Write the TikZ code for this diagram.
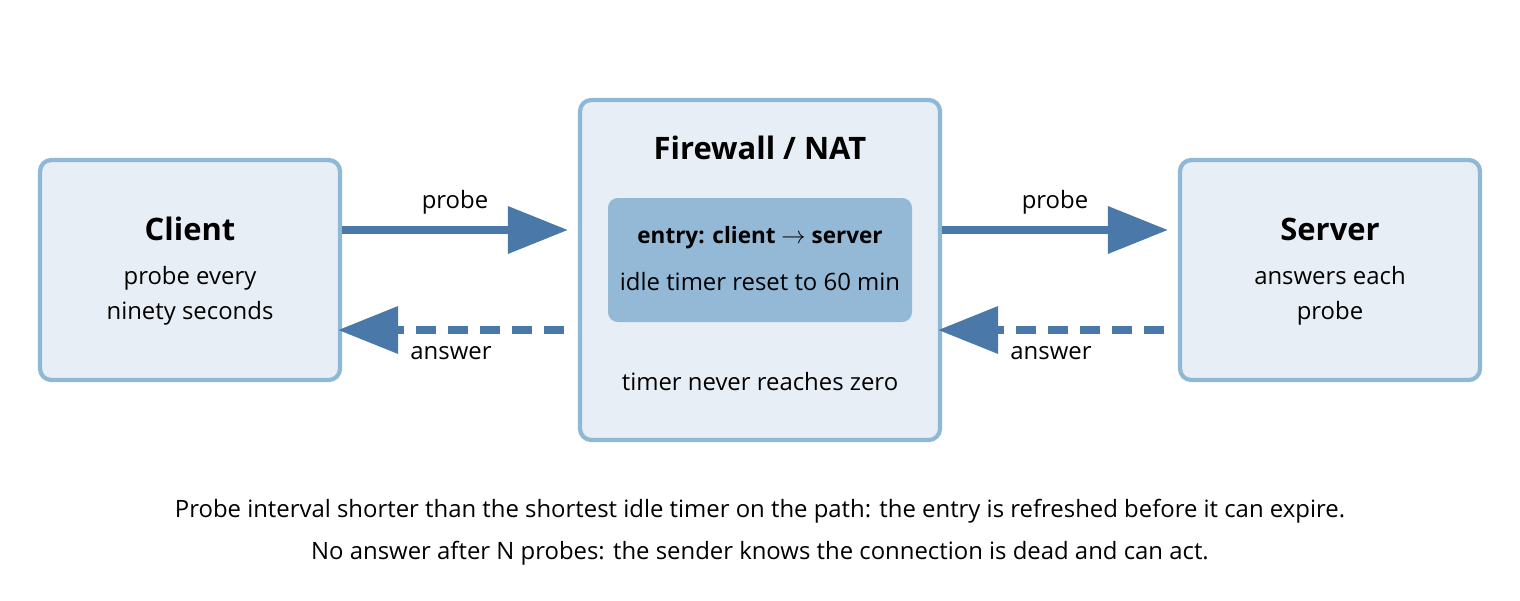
\documentclass[tikz,border=0pt]{standalone}
\usepackage{fontspec}
\setmainfont{Open Sans}
\usetikzlibrary{arrows.meta,positioning}
\definecolor{boxfill}{HTML}{E8EEF5}
\definecolor{boxline}{HTML}{8FB8D6}
\definecolor{entryfill}{HTML}{93B9D6}
\definecolor{flow}{HTML}{4A78A8}
\begin{document}
\begin{tikzpicture}
[
box/.style={draw=boxline, fill=boxfill, line width=3pt, rounded corners=8pt},
entry/.style={fill=entryfill, rounded corners=7pt, minimum width=7.6cm, minimum height=3.1cm},
title/.style={font=\bfseries\fontsize{22}{26}\selectfont},
body/.style={text=black, font=\fontsize{17}{24.8}\selectfont, align=center},
probe/.style={flow, line width=5pt, -{Triangle[length=1.5cm,width=1.15cm]}},
answer/.style={probe, dash pattern=on 0.5cm off 0.3cm}
]
\useasboundingbox (0,0) rectangle (38,15);
%Nodes
\node[box, minimum width=7.5cm, minimum height=5.5cm] (client) at (4.75,8.25) {};
\node[box, minimum width=9cm, minimum height=8.5cm]   (fw)     at (19,8.25) {};
\node[box, minimum width=7.5cm, minimum height=5.5cm] (server) at (33.25,8.25) {};
\node[entry] (tab) at (19,8.5) {};

\node[title] (clienttitle) at (4.75,9.27) {Client};
\node[body]  (clienttext)  at (4.75,7.6) {probe every\\ninety seconds};
\node[title] (fwtitle)     at (19,11.3) {Firewall / NAT};
\node[body, font=\bfseries\fontsize{16}{20}\selectfont] (tabkey) at (19,9.05) {entry: client $\rightarrow$ server};
\node[body]  (tabval)      at (19,7.97) {idle timer reset to 60 min};
\node[body]  (fwtext)      at (19,5.47) {timer never reaches zero};
\node[title] (servertitle) at (33.25,9.27) {Server};
\node[body]  (servertext)  at (33.25,7.6) {answers each\\probe};

%Lines
\draw[probe]  ([yshift=1cm]client.east) -- node[body, above=0.2cm] (p1) {probe} ([yshift=1cm,xshift=-0.25cm]fw.west);
\draw[answer] ([yshift=-1.5cm,xshift=-0.35cm]fw.west) -- node[body, below=0.2cm] (a1) {answer} ([yshift=-1.5cm,xshift=-0.1cm]client.east);
\draw[probe]  ([yshift=1cm]fw.east) -- node[body, above=0.2cm] (p2) {probe} ([yshift=1cm,xshift=-0.25cm]server.west);
\draw[answer] ([yshift=-1.5cm,xshift=-0.35cm]server.west) -- node[body, below=0.2cm] (a2) {answer} ([yshift=-1.5cm,xshift=-0.1cm]fw.east);

%Notes
\node[body] (note1) at (19,2.23) {Probe interval shorter than the shortest idle timer on the path: the entry is refreshed before it can expire.};
\node[body] (note2) at (19,1.17) {No answer after N probes: the sender knows the connection is dead and can act.};
\end{tikzpicture}
\end{document}
